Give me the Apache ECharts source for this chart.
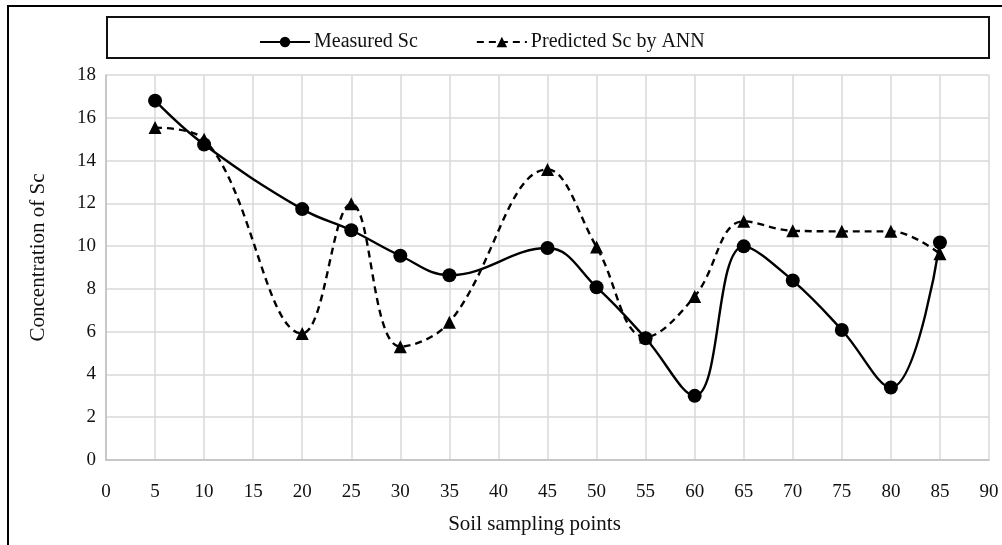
<!DOCTYPE html>
<html>
<head>
<meta charset="utf-8">
<script src="https://cdn.jsdelivr.net/npm/echarts@6/dist/echarts.min.js"></script>
<style>
  html, body { margin: 0; padding: 0; background: #fff; }
  #chart { width: 1002px; height: 545px; }
</style>
</head>
<body>
<div id="chart"></div>
<script>
// Sampling point positions along the transect
const samplingPoints = [5, 10, 20, 25, 30, 35, 45, 50, 55, 60, 65, 70, 75, 80, 85];
// Measured scandium concentration at each point
const measuredSc = [16.8, 14.75, 11.73, 10.74, 9.55, 8.64, 9.91, 8.08, 5.69, 3.0, 9.99, 8.39, 6.08, 3.39, 10.17];
// Scandium concentration predicted by the ANN model
const predictedSc = [15.54, 15.0, 5.92, 11.98, 5.3, 6.44, 13.58, 9.96, 5.75, 7.65, 11.16, 10.72, 10.69, 10.69, 9.64];

const seriesNames = ['Measured Sc', 'Predicted Sc by ANN'];
const xAxisTitle = 'Soil sampling points';
const yAxisTitle = 'Concentration of Sc';

const toPairs = (xs, ys) => xs.map((x, i) => [x, ys[i]]);

const serif = '"Liberation Serif", "DejaVu Serif", serif';
const gridColor = '#d9d9d9';

const chart = echarts.init(document.getElementById('chart'), null, { renderer: 'canvas' });

chart.setOption({
  backgroundColor: '#ffffff',
  animation: false,
  graphic: [
    {
      // outer frame of the figure (top and left edges visible)
      type: 'rect',
      shape: { x: 8, y: 6, width: 1200, height: 800 },
      style: { fill: 'none', stroke: '#000', lineWidth: 2 },
      silent: true
    },
    {
      // frame around the legend
      type: 'rect',
      shape: { x: 107, y: 17, width: 882, height: 41 },
      style: { fill: 'none', stroke: '#111', lineWidth: 2 },
      silent: true
    }
  ],
  legend: {
    left: 254,
    top: 27,
    itemWidth: 50,
    itemHeight: 13,
    itemGap: 58,
    textStyle: { fontFamily: serif, fontSize: 20, color: '#111', padding: [0, 0, 0, -1] },
    data: seriesNames
  },
  grid: {
    left: 106,
    right: 13,
    top: 75,
    bottom: 85,
    containLabel: false
  },
  xAxis: {
    type: 'value',
    min: 0,
    max: 90,
    interval: 5,
    name: xAxisTitle,
    nameLocation: 'middle',
    nameGap: 54,
    nameTextStyle: { fontFamily: serif, fontSize: 21, color: '#111', padding: [0, 26, 0, 0] },
    axisLine: { show: true, lineStyle: { color: '#bfbfbf', width: 1.5 } },
    axisTick: { show: false },
    axisLabel: { fontFamily: serif, fontSize: 19, color: '#111', margin: 23 },
    splitLine: { show: true, lineStyle: { color: gridColor, width: 1.5 } }
  },
  yAxis: {
    type: 'value',
    min: 0,
    max: 18,
    interval: 2,
    name: yAxisTitle,
    nameLocation: 'middle',
    nameGap: 57,
    nameTextStyle: { fontFamily: serif, fontSize: 21, color: '#111', padding: [0, 0, 0, 20] },
    axisLine: { show: true, lineStyle: { color: '#bfbfbf', width: 1.5 } },
    axisTick: { show: false },
    axisLabel: { fontFamily: serif, fontSize: 19, color: '#111', margin: 10 },
    splitLine: { show: true, lineStyle: { color: gridColor, width: 1.5 } }
  },
  series: [
    {
      name: seriesNames[0],
      type: 'line',
      data: toPairs(samplingPoints, measuredSc),
      smooth: 0.4,
      symbol: 'circle',
      symbolSize: 14,
      itemStyle: { color: '#000' },
      lineStyle: { color: '#000', width: 2.4 },
      z: 3
    },
    {
      name: seriesNames[1],
      type: 'line',
      data: toPairs(samplingPoints, predictedSc),
      smooth: 0.4,
      symbol: 'triangle',
      symbolSize: 13,
      itemStyle: { color: '#000' },
      lineStyle: { color: '#000', width: 2.4, type: [7, 5] },
      z: 2
    }
  ]
});
</script>
</body>
</html>
